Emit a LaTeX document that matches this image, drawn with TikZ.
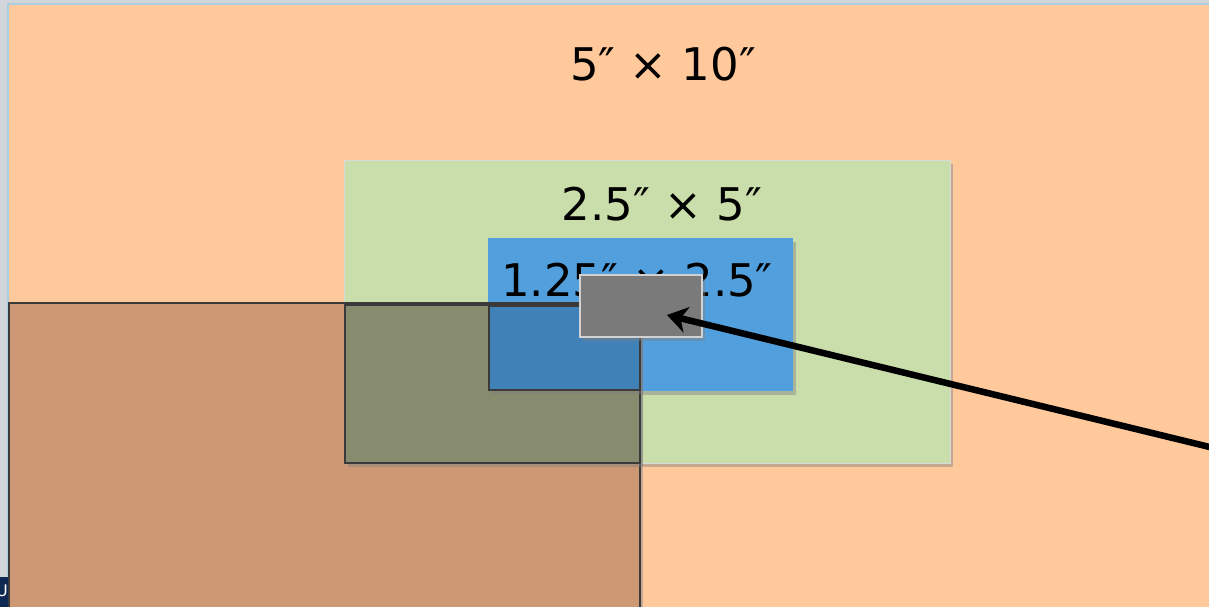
\documentclass[tikz,border=0pt]{standalone}
\usepackage{fontspec}
\setmainfont{DejaVu Sans}
\usetikzlibrary{shadows,arrows.meta}
\definecolor{bgc}{HTML}{D2D6DA}
\definecolor{orangec}{HTML}{FFC99C}
\definecolor{greenc}{HTML}{C9DEAA}
\definecolor{bluec}{HTML}{51A0DD}
\definecolor{brownc}{HTML}{CE9875}
\definecolor{olivec}{HTML}{878C6F}
\definecolor{dbluec}{HTML}{4082B8}
\definecolor{grayc}{HTML}{7A7A7A}
\definecolor{navyc}{HTML}{0E2A52}
\definecolor{edgec}{HTML}{3A3A3A}
\tikzset{
  shad/.style={drop shadow={opacity=0.45, shadow xshift=2.5pt, shadow yshift=-3.5pt}},
  label/.style={font=\fontsize{45}{48}\selectfont, inner sep=0pt},
  darkbox/.style={draw=edgec, line width=2.2pt, shad},
}
\begin{document}
\begin{tikzpicture}[x=1pt,y=-1pt]
\useasboundingbox (0,0) rectangle (1209,607);
\fill[bgc] (0,0) rectangle (1209,607);
% orange background
\path[fill=orangec, draw=cyan!25!bgc, line width=1.4pt] (8,4) rectangle (1215,615);
\node[inner sep=0pt] (orange) at (608,305) {};
% green
\path[fill=greenc, draw=black!15, line width=0.8pt, shad] (344,160) rectangle (950,463);
\node[inner sep=0pt] (green) at (647,311) {};
% blue
\path[fill=bluec, shad] (488,238) rectangle (793,391);
\node[inner sep=0pt] (blue) at (640,314) {};
% labels
\node[label] (t1) at (663,64) {5″ × 10″};
\node[label] (t2) at (662,204) {2.5″ × 5″};
\node[label] (t3) at (637,280) {1.25″ × 2.5″};
% brown
\path[fill=brownc, darkbox] (9,303) rectangle (640,610);
% olive
\path[fill=olivec, darkbox] (345,305) rectangle (640,463);
% dark blue
\path[fill=dbluec, darkbox] (489,306) rectangle (640,390);
% grey
\path[fill=grayc, draw=black!18, line width=1.6pt, shad] (580,275) rectangle (702,337);
\node[inner sep=0pt] (grey) at (641,306) {};
% navy corner
\begin{scope}
\clip (0,577) rectangle (8,607);
\fill[navyc] (0,577) rectangle (8,607);
\node[text=white, font=\fontsize{16}{18}\selectfont, anchor=west, inner sep=0pt] at (-4,591) {U};
\end{scope}
% arrow
\coordinate (tip) at (667,315);
\coordinate (tail) at (1222,450);
\draw[line width=6.5pt, -{Stealth[length=20pt,width=26pt,inset=6pt]}, shad] (tail) -- (tip);
\end{tikzpicture}
\end{document}
